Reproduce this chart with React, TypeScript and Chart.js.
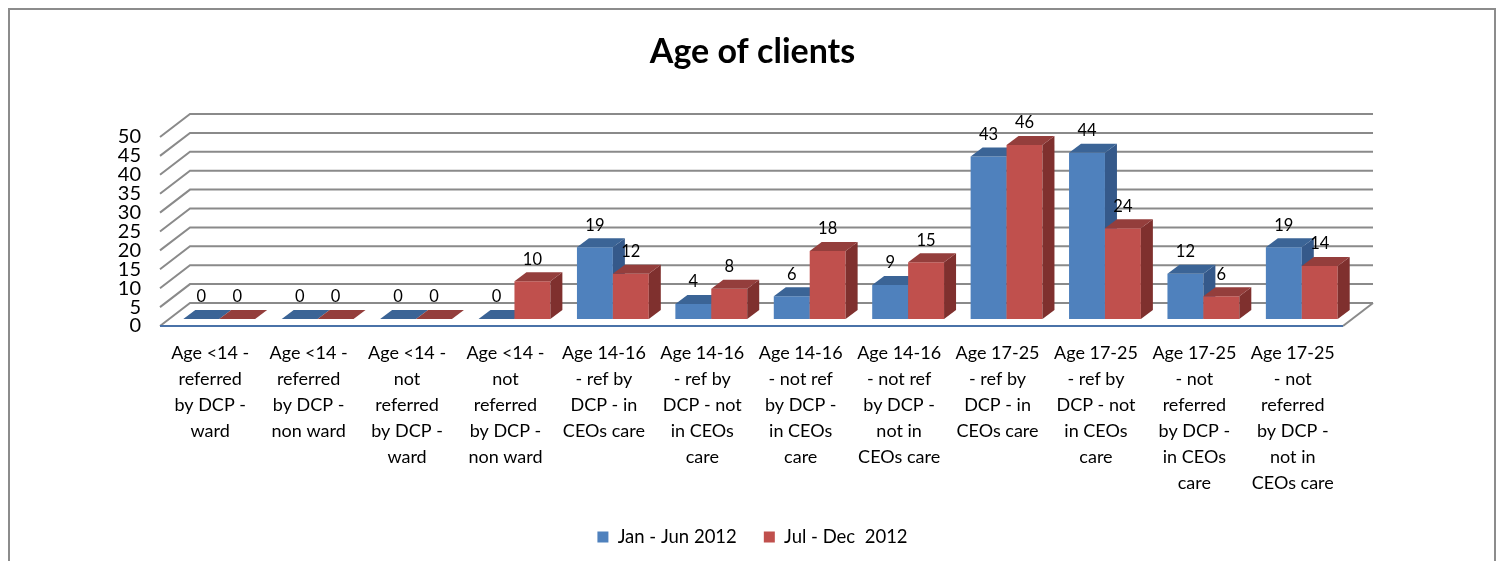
import React, { useEffect, useRef } from 'react';
import { Chart, registerables } from 'chart.js';

Chart.register(...registerables);

const categories: string[][] = [
  ['Age <14 -', 'referred', 'by DCP -', 'ward'],
  ['Age <14 -', 'referred', 'by DCP -', 'non ward'],
  ['Age <14 -', 'not', 'referred', 'by DCP -', 'ward'],
  ['Age <14 -', 'not', 'referred', 'by DCP -', 'non ward'],
  ['Age 14-16', '- ref by', 'DCP - in', 'CEOs care'],
  ['Age 14-16', '- ref by', 'DCP - not', 'in CEOs', 'care'],
  ['Age 14-16', '- not ref', 'by DCP -', 'in CEOs', 'care'],
  ['Age 14-16', '- not ref', 'by DCP -', 'not in', 'CEOs care'],
  ['Age 17-25', '- ref by', 'DCP - in', 'CEOs care'],
  ['Age 17-25', '- ref by', 'DCP - not', 'in CEOs', 'care'],
  ['Age 17-25', '- not', 'referred', 'by DCP -', 'in CEOs', 'care'],
  ['Age 17-25', '- not', 'referred', 'by DCP -', 'not in', 'CEOs care'],
];

const janJun2012: number[] = [0, 0, 0, 0, 19, 4, 6, 9, 43, 44, 12, 19];
const julDec2012: number[] = [0, 0, 0, 10, 12, 8, 18, 15, 46, 24, 6, 14];

const seriesNames: string[] = ['Jan - Jun 2012', 'Jul - Dec  2012'];
const chartTitle = 'Age of clients';

const yMin = 0;
const yMax = 50;
const yStep = 5;

const FONT = "Lato, 'Open Sans', 'DejaVu Sans', sans-serif";

const frontColors = ['#4f81bd', '#c0504d'];
const faceColors = [
  { top: '#3b6496', side: '#35598a' },
  { top: '#943e3c', side: '#7f302e' },
];

// 3D geometry (pixels)
const DX = 12;
const DY = -9;
const FRONT_OFF = 7;
const BACK_OFF = -16;

const threeD = {
  id: 'threeD',
  beforeDatasetsDraw(chart: any) {
    const { ctx, chartArea, scales } = chart;
    const y = scales.y;
    const frontLeft = chartArea.left - 10;
    const frontRight = chartArea.right - 8;
    const backLeft = chartArea.left + 20;
    const backRight = chartArea.right + 22;
    ctx.save();
    ctx.strokeStyle = '#8a8a8a';
    ctx.lineWidth = 2;
    y.ticks.forEach((t: any) => {
      const py = y.getPixelForValue(t.value);
      ctx.beginPath();
      ctx.moveTo(frontLeft, py + FRONT_OFF);
      ctx.lineTo(backLeft, py + BACK_OFF);
      ctx.lineTo(backRight, py + BACK_OFF);
      ctx.stroke();
    });
    const p0 = y.getPixelForValue(0);
    ctx.beginPath();
    ctx.moveTo(frontRight, p0 + FRONT_OFF);
    ctx.lineTo(backRight, p0 + BACK_OFF);
    ctx.stroke();
    ctx.strokeStyle = '#4a72a8';
    ctx.beginPath();
    ctx.moveTo(frontLeft, p0 + FRONT_OFF);
    ctx.lineTo(frontRight, p0 + FRONT_OFF);
    ctx.stroke();
    ctx.restore();
  },
  beforeDatasetDraw() {
    // datasets are drawn below, left series first, so the 3D faces overlap correctly
    return false;
  },
  afterDatasetsDraw(chart: any) {
    const { ctx } = chart;
    chart.data.datasets.forEach((_ds: any, i: number) => {
      const meta = chart.getDatasetMeta(i);
      if (meta.hidden) return;
      meta.controller.draw();
      const f = faceColors[i];
      ctx.save();
      meta.data.forEach((el: any) => {
        const { x, y, base, width } = el.getProps(['x', 'y', 'base', 'width'], true);
        const l = x - width / 2;
        const r = x + width / 2;
        ctx.fillStyle = f.side;
        ctx.beginPath();
        ctx.moveTo(r, y);
        ctx.lineTo(r + DX, y + DY);
        ctx.lineTo(r + DX, base + DY);
        ctx.lineTo(r, base);
        ctx.closePath();
        ctx.fill();
        ctx.fillStyle = f.top;
        ctx.beginPath();
        ctx.moveTo(l, y);
        ctx.lineTo(r, y);
        ctx.lineTo(r + DX, y + DY);
        ctx.lineTo(l + DX, y + DY);
        ctx.closePath();
        ctx.fill();
      });
      ctx.restore();
    });
    ctx.save();
    ctx.fillStyle = '#000';
    ctx.font = `16.5px ${FONT}`;
    ctx.textAlign = 'center';
    ctx.textBaseline = 'middle';
    chart.data.datasets.forEach((ds: any, i: number) => {
      const meta = chart.getDatasetMeta(i);
      meta.data.forEach((el: any, j: number) => {
        const { x, y } = el.getProps(['x', 'y'], true);
        ctx.fillText(String(ds.data[j]), x, y - 22);
      });
    });
    ctx.restore();
  },
};

export default function App() {
  const ref = useRef<HTMLCanvasElement | null>(null);

  useEffect(() => {
    if (!ref.current) return;
    const chart = new Chart(ref.current, {
      type: 'bar',
      data: {
        labels: categories,
        datasets: [
          {
            label: seriesNames[0],
            data: janJun2012,
            backgroundColor: frontColors[0],
            borderWidth: 0,
          },
          {
            label: seriesNames[1],
            data: julDec2012,
            backgroundColor: frontColors[1],
            borderWidth: 0,
          },
        ],
      },
      options: {
        animation: false,
        responsive: false,
        devicePixelRatio: 1,
        categoryPercentage: 0.73,
        barPercentage: 1.0,
        layout: { padding: { left: 0, right: 0, top: 0, bottom: 12.75 } },
        scales: {
          x: {
            grid: { display: false, drawTicks: false },
            border: { display: false },
            ticks: {
              autoSkip: false,
              maxRotation: 0,
              minRotation: 0,
              padding: 21,
              labelOffset: -9,
              color: '#000',
              font: { family: FONT, size: 18, lineHeight: 1.444 },
            },
            afterFit: (s: any) => {
              s.height = 181.75;
            },
          },
          y: {
            min: yMin,
            max: yMax,
            grid: { display: false, drawTicks: false },
            border: { display: false },
            ticks: {
              stepSize: yStep,
              autoSkip: false,
              padding: 29,
              labelOffset: 7,
              color: '#000',
              font: { family: FONT, size: 20 },
            },
            afterFit: (s: any) => {
              s.width = 170;
            },
          },
          yRight: {
            position: 'right',
            min: yMin,
            max: yMax,
            grid: { display: false, drawTicks: false },
            border: { display: false },
            ticks: { display: false },
            afterFit: (s: any) => {
              s.width = 154;
            },
          },
        },
        plugins: {
          title: {
            display: true,
            text: chartTitle,
            color: '#000',
            font: { family: FONT, size: 34, weight: 'bold' },
            padding: { top: 31.6, bottom: 57.6 },
          },
          legend: {
            position: 'bottom',
            labels: {
              color: '#000',
              font: { family: FONT, size: 18.5 },
              boxWidth: 11,
              boxHeight: 11,
              padding: 27,
            },
          },
          tooltip: { enabled: false },
        },
      },
      plugins: [threeD],
    });
    return () => chart.destroy();
  }, []);

  return (
    <div style={{ position: 'relative', width: 1489, height: 553 }}>
      <div
        style={{
          position: 'absolute',
          left: 0,
          top: 0,
          width: 1488,
          height: 561,
          boxSizing: 'border-box',
          borderTop: '2px solid #8c8c8c',
          borderLeft: '2px solid #8c8c8c',
          borderRight: '2px solid #8c8c8c',
        }}
      />
      <canvas
        ref={ref}
        width={1505}
        height={569}
        style={{ position: 'absolute', left: -8, top: -8, width: 1505, height: 569, display: 'block' }}
      />
    </div>
  );
}
